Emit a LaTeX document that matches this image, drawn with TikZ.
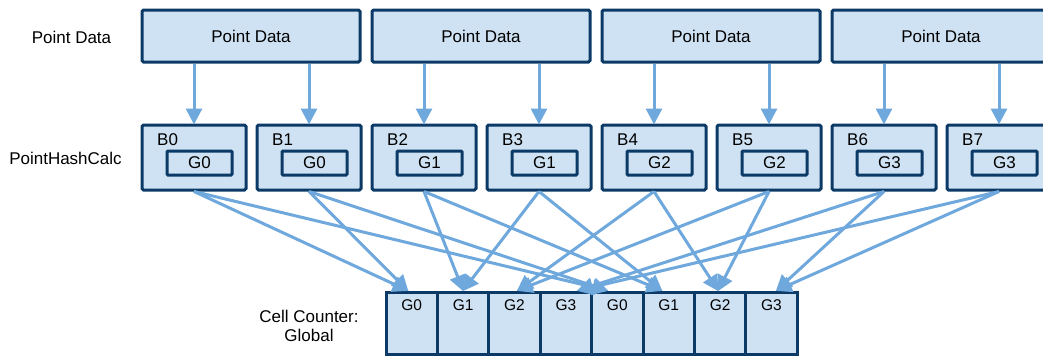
\documentclass[tikz,border=0pt]{standalone}
\usepackage{fontspec}
\setmainfont{Liberation Sans}
\usetikzlibrary{arrows.meta}
\definecolor{boxfill}{HTML}{CFE2F3}
\definecolor{boxline}{HTML}{0B3A66}
\definecolor{arrowblue}{HTML}{6FA8DC}
\tikzset{
  pdbox/.style={draw=boxline, fill=boxfill, line width=3pt, rounded corners=1.5pt,
    minimum width=218pt, minimum height=52pt, inner sep=0pt,
    font=\fontsize{17}{19}\selectfont},
  bbox/.style={draw=boxline, fill=boxfill, line width=3pt, rounded corners=1.5pt,
    minimum width=104pt, minimum height=65pt, inner sep=0pt},
  gbox/.style={draw=boxline, fill=boxfill, line width=3pt, rounded corners=1pt,
    minimum width=65pt, minimum height=24pt, inner sep=0pt,
    font=\fontsize{17}{19}\selectfont},
  blabel/.style={anchor=west, inner sep=0pt, font=\fontsize{17}{19}\selectfont},
  cellbox/.style={draw=boxline, fill=boxfill, line width=3pt,
    minimum width=51.4pt, minimum height=62pt, inner sep=0pt},
  celltext/.style={inner sep=0pt, font=\fontsize{15.5}{17}\selectfont},
  sidelabel/.style={inner sep=0pt, align=center, font=\fontsize{17}{18.5}\selectfont},
  arr/.style={draw=arrowblue, line width=3pt,
    -{Triangle[length=16pt,width=16pt]}, shorten >=-1pt},
}
\begin{document}
\begin{tikzpicture}[x=1pt,y=-1pt]
\useasboundingbox (0,0) rectangle (1043,356);
\clip (0,0) rectangle (1043,356);

% side labels
\node[sidelabel] (lpd) at (71.5,37) {Point Data};
\node[sidelabel] (lphc) at (65.5,158) {PointHashCalc};
\node[sidelabel] (lcc) at (309,326) {Cell Counter:\\Global};

% point data boxes
\foreach \i in {0,...,3} {
  \node[pdbox] (pd\i) at ({251+230*\i},36) {Point Data};
}

% B boxes with inner G boxes
\foreach \i/\g in {0/0,1/0,2/1,3/1,4/2,5/2,6/3,7/3} {
  \node[bbox] (b\i) at ({194+115*\i},157.5) {};
  \node[blabel] (bl\i) at ({157+115*\i},140) {B\i};
  \node[gbox] (g\i) at ({199.5+115*\i},163) {G\g};
}

% cells
\foreach \i/\g in {0/0,1/1,2/2,3/3,4/0,5/1,6/2,7/3} {
  \node[cellbox] (c\i) at ({386+25.7+51.4*\i},323) {};
  \node[celltext] (ct\i) at ({386+25.7+51.4*\i},305) {G\g};
}

% arrows point data -> B
\foreach \i/\p in {0/0,1/0,2/1,3/1,4/2,5/2,6/3,7/3} {
  \draw[arr] (pd\p.south -| b\i.north) -- (b\i.north);
}

% arrows B -> cells
\draw[arr] (b0.south) -- ([xshift=-4pt]c0.north);
\draw[arr] (b0.south) -- ([xshift=-10pt]c4.north);
\draw[arr] (b1.south) -- ([xshift=-4pt]c0.north);
\draw[arr] (b1.south) -- ([xshift=-10pt]c4.north);
\draw[arr] (b2.south) -- ([xshift=0pt]c1.north);
\draw[arr] (b2.south) -- ([xshift=-7pt]c5.north);
\draw[arr] (b3.south) -- ([xshift=0pt]c1.north);
\draw[arr] (b3.south) -- ([xshift=-7pt]c5.north);
\draw[arr] (b4.south) -- ([xshift=3pt]c2.north);
\draw[arr] (b4.south) -- ([xshift=-2pt]c6.north);
\draw[arr] (b5.south) -- ([xshift=3pt]c2.north);
\draw[arr] (b5.south) -- ([xshift=-2pt]c6.north);
\draw[arr] (b6.south) -- ([xshift=12pt]c3.north);
\draw[arr] (b6.south) -- ([xshift=5pt]c7.north);
\draw[arr] (b7.south) -- ([xshift=12pt]c3.north);
\draw[arr] (b7.south) -- ([xshift=5pt]c7.north);
\end{tikzpicture}
\end{document}
